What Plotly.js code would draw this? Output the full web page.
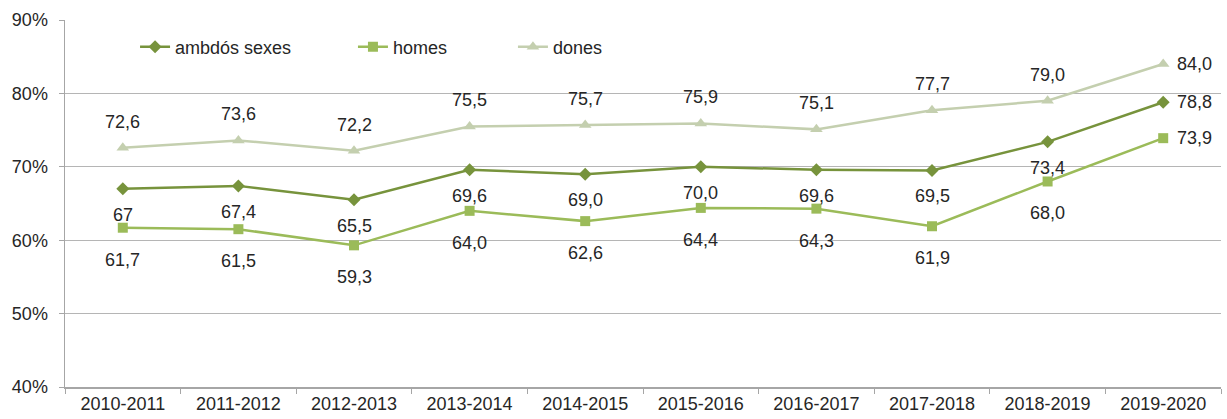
<!DOCTYPE html>
<html>
<head>
<meta charset="utf-8">
<script src="https://cdn.plot.ly/plotly-3.0.1.min.js"></script>
<style>html,body{margin:0;padding:0;background:#fff;}#chart{width:1227px;height:419px;}</style>
</head>
<body>
<div id="chart"></div>
<script>
const categories = ['2010-2011','2011-2012','2012-2013','2013-2014','2014-2015','2015-2016','2016-2017','2017-2018','2018-2019','2019-2020'];
const ambdos = [67, 67.4, 65.5, 69.6, 69.0, 70.0, 69.6, 69.5, 73.4, 78.8];
const homes  = [61.7, 61.5, 59.3, 64.0, 62.6, 64.4, 64.3, 61.9, 68.0, 73.9];
const dones  = [72.6, 73.6, 72.2, 75.5, 75.7, 75.9, 75.1, 77.7, 79.0, 84.0];
const ambdosLabels = ['67','67,4','65,5','69,6','69,0','70,0','69,6','69,5','73,4','78,8'];
const homesLabels  = ['61,7','61,5','59,3','64,0','62,6','64,4','64,3','61,9','68,0','73,9'];
const donesLabels  = ['72,6','73,6','72,2','75,5','75,7','75,9','75,1','77,7','79,0','84,0'];
const yTicks = [40, 50, 60, 70, 80, 90];
const yTickLabels = ['40%','50%','60%','70%','80%','90%'];

const FONT = 'Liberation Sans, Arial, sans-serif';
const C_AMB = '#77933c', C_HOM = '#9bbb59', C_DON = '#c4cfaf';

const traces = [
  {x: categories, y: ambdos, name: 'ambdós sexes', type: 'scatter', mode: 'lines+markers',
   line: {color: C_AMB, width: 2.5}, marker: {symbol: 'diamond', size: 10, color: C_AMB}, legend: 'legend', hoverinfo: 'skip'},
  {x: categories, y: homes, name: 'homes', type: 'scatter', mode: 'lines+markers',
   line: {color: C_HOM, width: 2.5}, marker: {symbol: 'square', size: 10, color: C_HOM}, legend: 'legend2', hoverinfo: 'skip'},
  {x: categories, y: dones, name: 'dones', type: 'scatter', mode: 'lines+markers',
   line: {color: C_DON, width: 2.5}, marker: {symbol: 'triangle-up', size: 11, color: C_DON}, legend: 'legend3', hoverinfo: 'skip'}
];

const annotations = [];
function addLabels(vals, labels, yshift) {
  vals.forEach((v, i) => {
    const last = i === vals.length - 1;
    annotations.push({
      x: categories[i], y: v, xref: 'x', yref: 'y', text: labels[i], showarrow: false,
      xanchor: last ? 'left' : 'center', yanchor: 'middle',
      xshift: last ? 12 : 0, yshift: last ? 0 : yshift,
      font: {family: FONT, size: 18, color: '#262626'}
    });
  });
}
addLabels(dones, donesLabels, 26);
addLabels(ambdos, ambdosLabels, -26);
addLabels(homes, homesLabels, -32);

const legBase = {orientation: 'h', y: 0.926, yanchor: 'middle', xanchor: 'left', bgcolor: 'rgba(0,0,0,0)',
  font: {family: FONT, size: 18, color: '#262626'}, borderwidth: 0};

const layout = {
  width: 1227, height: 419,
  margin: {l: 65, r: 6, t: 20, b: 32},
  paper_bgcolor: '#ffffff', plot_bgcolor: '#ffffff',
  font: {family: FONT, size: 18, color: '#262626'},
  xaxis: {type: 'category', range: [-0.5, 9.5], showgrid: false, showline: true, linecolor: '#a6a6a6', linewidth: 1.5,
    ticks: 'outside', tickson: 'boundaries', ticklen: 5, tickcolor: '#a6a6a6',
    tickfont: {family: FONT, size: 18, color: '#262626'}, fixedrange: true},
  yaxis: {range: [40, 90], tickvals: yTicks, ticktext: yTickLabels, showgrid: true, gridcolor: '#b5b5b5', gridwidth: 1.2,
    showline: true, linecolor: '#a6a6a6', linewidth: 1.5, ticks: 'outside', ticklen: 5, tickcolor: '#a6a6a6',
    ticklabelstandoff: 7,
    zeroline: false, tickfont: {family: FONT, size: 18, color: '#262626'}, fixedrange: true},
  showlegend: true,
  legend: Object.assign({}, legBase, {x: 0.0606}),
  legend2: Object.assign({}, legBase, {x: 0.2491}),
  legend3: Object.assign({}, legBase, {x: 0.3875}),
  annotations: annotations
};

Plotly.newPlot('chart', traces, layout, {displayModeBar: false, staticPlot: true});
</script>
</body>
</html>
